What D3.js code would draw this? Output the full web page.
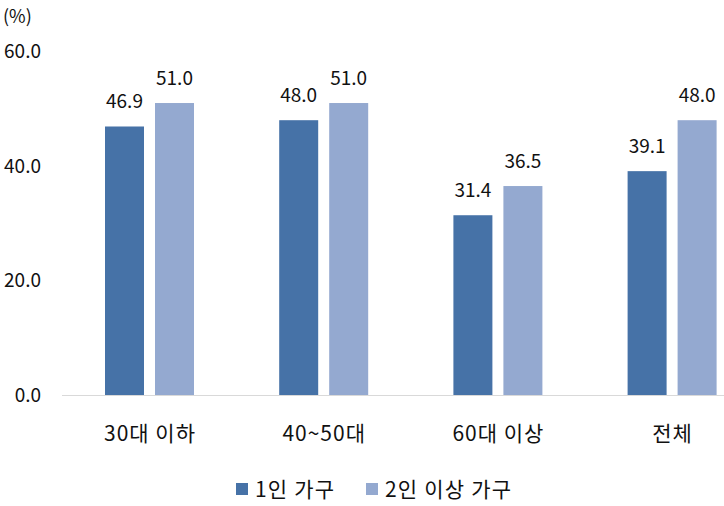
<!DOCTYPE html>
<html><head><meta charset="utf-8">
<script src="https://cdn.jsdelivr.net/npm/d3@7"></script>
<style>body{margin:0;background:#fff}svg{display:block}text{font-family:"Noto Sans CJK KR","Noto Sans",sans-serif;fill:#111}</style>
</head><body>
<script>
const categories = ["30대 이하", "40~50대", "60대 이상", "전체"];
const seriesNames = ["1인 가구", "2인 이상 가구"];
const single = [46.9, 48.0, 31.4, 39.1];
const multi = [51.0, 51.0, 36.5, 48.0];
const yTicks = [0, 20, 40, 60];
const colors = ["#4672A7", "#94A9D0"];

const W = 724, H = 506;
const FS = 19;
const svg = d3.select("body").append("svg").attr("width", W).attr("height", H);
const y = d3.scaleLinear().domain([0, 60]).range([395, 51.5]);
const x = d3.scaleBand().domain(categories).range([62.4, 759.2]);
const x1 = d3.scaleBand().domain(seriesNames).range([0, 89]).paddingInner(11/50);
const series = [single, multi];

// baseline
svg.append("line").attr("x1", 62).attr("x2", W).attr("y1", y(0)+0.5).attr("y2", y(0)+0.5)
  .attr("stroke", "#d9d9d9").attr("stroke-width", 1);

// y labels
svg.append("g").selectAll("text").data(yTicks).join("text")
  .attr("x", 41).attr("y", d => y(d)).attr("dy", "0.35em").attr("text-anchor", "end")
  .attr("font-size", FS).text(d => d.toFixed(1));
svg.append("text").attr("x", 3).attr("y", 17).attr("dy", "0.35em").attr("font-size", 18).text("(%)");

// bars
series.forEach((vals, si) => {
  const g = svg.append("g");
  g.selectAll("rect").data(vals).join("rect")
    .attr("x", (d, i) => x(categories[i]) + x.bandwidth()/2 - 44.5 + x1(seriesNames[si]))
    .attr("width", x1.bandwidth())
    .attr("y", d => y(d)).attr("height", d => y(0) - y(d))
    .attr("fill", colors[si]);
  g.selectAll("text").data(vals).join("text")
    .attr("x", (d, i) => x(categories[i]) + x.bandwidth()/2 - 44.5 + x1(seriesNames[si]) + x1.bandwidth()/2)
    .attr("y", d => y(d) - 18.5).attr("text-anchor", "middle").attr("font-size", FS)
    .text(d => d.toFixed(1));
});

// category labels
svg.append("g").selectAll("text").data(categories).join("text")
  .attr("x", d => x(d) + x.bandwidth()/2 + 0.5).attr("y", 441).attr("text-anchor", "middle")
  .attr("font-size", 21).attr("letter-spacing", 1).text(d => d);

// legend
const leg = [{x: 236, tx: 255}, {x: 366, tx: 385}];
seriesNames.forEach((n, i) => {
  svg.append("rect").attr("x", leg[i].x).attr("y", 483).attr("width", 12).attr("height", 12).attr("fill", colors[i]);
  svg.append("text").attr("x", leg[i].tx).attr("y", 497).attr("font-size", 21).attr("letter-spacing", 1.2).text(n);
});
</script>
</body></html>
